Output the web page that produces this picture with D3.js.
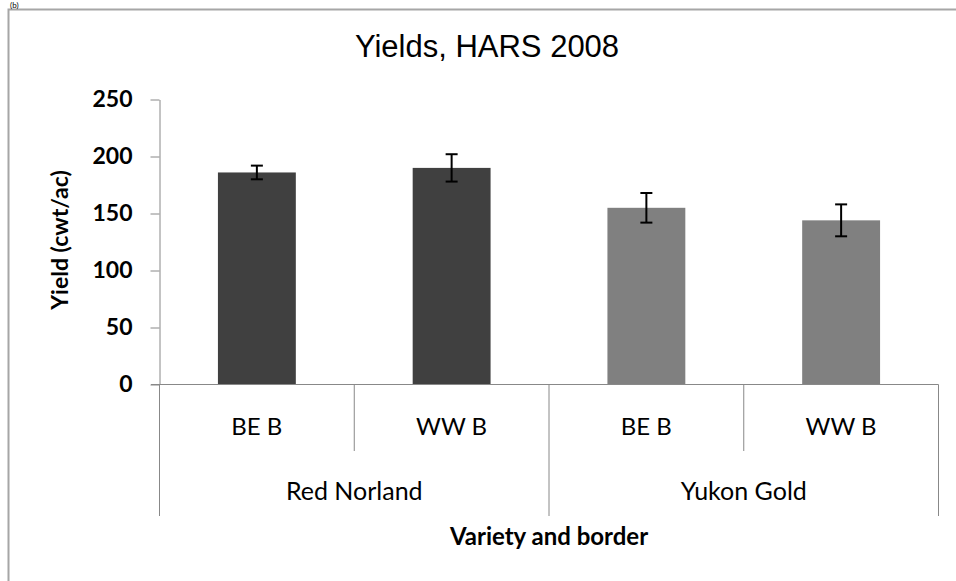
<!DOCTYPE html>
<html>
<head>
<meta charset="utf-8">
<script src="https://cdn.jsdelivr.net/npm/d3@7"></script>
<style>
  body { margin: 0; background: #fff; }
  svg { display: block; }
</style>
</head>
<body>
<svg id="chart" width="956" height="581"></svg>
<script>
const varieties = ["Red Norland", "Yukon Gold"];
const borders = ["BE B", "WW B"];
const yields = [186, 190, 155, 144];
const errors = [6, 12, 13, 14];
const yTicks = [0, 50, 100, 150, 200, 250];

const bars = [];
varieties.forEach((v, i) => {
    borders.forEach((b, j) => {
        const k = i * borders.length + j;
        bars.push({ key: v + "|" + b, variety: v, border: b, value: yields[k], err: errors[k] });
    });
});

const svg = d3.select("#chart");
const axisColor = "#888";
const calibri = "Lato, 'Open Sans', sans-serif";

const plotLeft = 159.5, plotRight = 938.5, plotTop = 99.5, plotBottom = 384.5;

const x = d3.scaleBand()
    .domain(bars.map(d => d.key))
    .range([plotLeft, plotRight])
    .paddingInner(0.6)
    .paddingOuter(0.3);

const xGroup = d3.scaleBand()
    .domain(varieties)
    .range([plotLeft, plotRight])
    .padding(0);

const y = d3.scaleLinear()
    .domain([0, 250])
    .range([plotBottom, plotTop]);

const color = d3.scaleOrdinal()
    .domain(varieties)
    .range(["#404040", "#808080"]);

// outer frame (only top/left edges visible in the crop)
svg.append("rect")
    .attr("x", 8.5).attr("y", 9.5)
    .attr("width", 1000).attr("height", 700)
    .attr("fill", "none")
    .attr("stroke", "#a6a6a6")
    .attr("stroke-width", 2);

// panel letter, squeezed above the frame
svg.append("text")
    .attr("x", 10).attr("y", 8)
    .attr("font-family", calibri)
    .attr("font-size", 8)
    .text("(b)");

// title
svg.append("text")
    .attr("x", 487).attr("y", 57)
    .attr("text-anchor", "middle")
    .attr("font-family", "'Liberation Sans', Arial, sans-serif")
    .attr("font-size", 31)
    .text("Yields, HARS 2008");

// bars
svg.append("g").selectAll("rect")
    .data(bars)
    .join("rect")
    .attr("x", d => x(d.key))
    .attr("y", d => y(d.value))
    .attr("width", x.bandwidth())
    .attr("height", d => y(0) - y(d.value))
    .attr("fill", d => color(d.variety));

// error bars
const eb = svg.append("g")
    .attr("stroke", "#000")
    .attr("stroke-width", 2)
    .selectAll("g")
    .data(bars)
    .join("g")
    .attr("transform", d => `translate(${x(d.key) + x.bandwidth() / 2},0)`);

eb.append("line")
    .attr("y1", d => y(d.value + d.err))
    .attr("y2", d => y(d.value - d.err));
eb.append("line")
    .attr("x1", -6).attr("x2", 6)
    .attr("y1", d => y(d.value + d.err))
    .attr("y2", d => y(d.value + d.err));
eb.append("line")
    .attr("x1", -6).attr("x2", 6)
    .attr("y1", d => y(d.value - d.err))
    .attr("y2", d => y(d.value - d.err));

// y axis
const yAxis = svg.append("g")
    .attr("transform", `translate(${plotLeft},0)`)
    .call(d3.axisLeft(y).tickValues(yTicks).tickSize(9).tickSizeOuter(0).tickPadding(18));
yAxis.selectAll("path, line").attr("stroke", axisColor);
yAxis.selectAll("text")
    .attr("font-family", calibri)
    .attr("font-size", 23)
    .attr("font-weight", "bold")
    .attr("fill", "#000");

// x axis line
svg.append("line")
    .attr("x1", 151).attr("x2", plotRight)
    .attr("y1", plotBottom).attr("y2", plotBottom)
    .attr("stroke", axisColor);

// separators between borders (short) and varieties (long)
const shortSeps = varieties.map(v => xGroup(v) + xGroup.bandwidth() / 2);
const longSeps = varieties.map(v => xGroup(v)).concat([plotRight]);

svg.append("g").selectAll("line")
    .data(shortSeps)
    .join("line")
    .attr("x1", d => d).attr("x2", d => d)
    .attr("y1", plotBottom).attr("y2", 451)
    .attr("stroke", axisColor);

svg.append("g").selectAll("line")
    .data(longSeps)
    .join("line")
    .attr("x1", d => d).attr("x2", d => d)
    .attr("y1", plotBottom).attr("y2", 516)
    .attr("stroke", axisColor);

// border labels
svg.append("g").selectAll("text")
    .data(bars)
    .join("text")
    .attr("x", d => x(d.key) + x.bandwidth() / 2)
    .attr("y", 435)
    .attr("text-anchor", "middle")
    .attr("font-family", calibri)
    .attr("font-size", 24)
    .text(d => d.border);

// variety labels
svg.append("g").selectAll("text")
    .data(varieties)
    .join("text")
    .attr("x", d => xGroup(d) + xGroup.bandwidth() / 2)
    .attr("y", 500)
    .attr("text-anchor", "middle")
    .attr("font-family", calibri)
    .attr("font-size", 25)
    .text(d => d);

// axis titles
svg.append("text")
    .attr("x", (plotLeft + plotRight) / 2)
    .attr("y", 545)
    .attr("text-anchor", "middle")
    .attr("font-family", calibri)
    .attr("font-size", 24)
    .attr("font-weight", "bold")
    .text("Variety and border");

svg.append("text")
    .attr("transform", "translate(68,240) rotate(-90)")
    .attr("text-anchor", "middle")
    .attr("font-family", calibri)
    .attr("font-size", 23)
    .attr("font-weight", "bold")
    .text("Yield (cwt/ac)");
</script>
</body>
</html>
